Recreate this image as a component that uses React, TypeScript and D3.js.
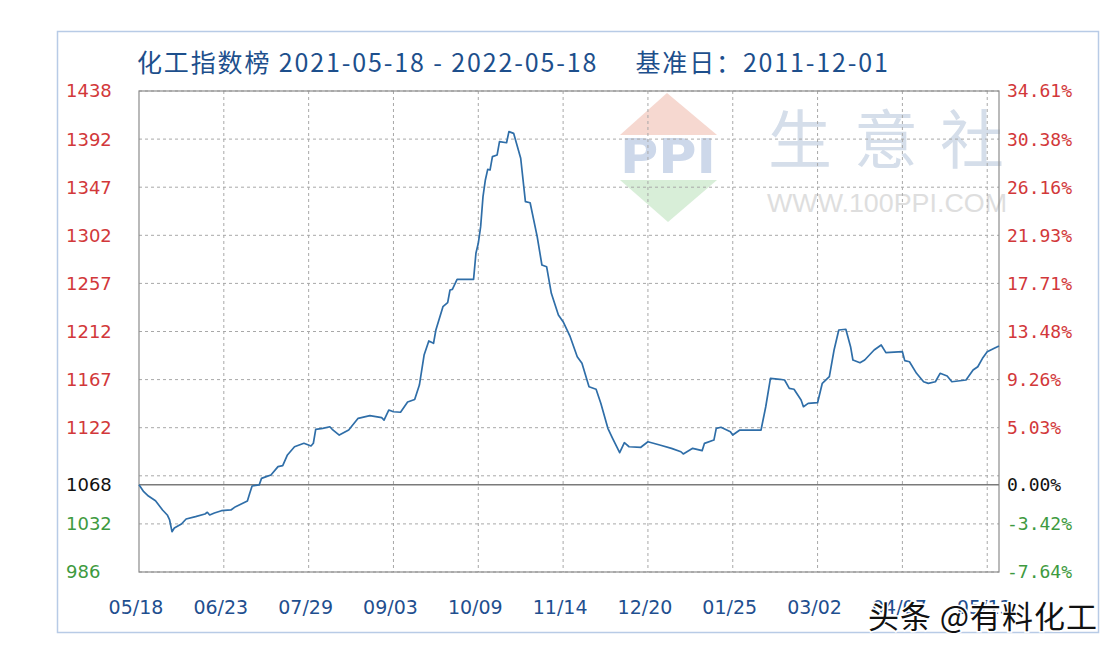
import React from "react";
import * as d3 from "d3";

const titleText = "化工指数榜 2021-05-18 - 2022-05-18     基准日：2011-12-01";

const dates = [
"2021-05-18","2021-05-20","2021-05-22","2021-05-25","2021-05-28","2021-05-30","2021-05-31","2021-06-01","2021-06-02","2021-06-05","2021-06-07","2021-06-11","2021-06-15","2021-06-16","2021-06-17","2021-06-19","2021-06-22","2021-06-26","2021-06-28","2021-07-03","2021-07-04","2021-07-05","2021-07-08","2021-07-09","2021-07-11","2021-07-13","2021-07-16","2021-07-18","2021-07-20","2021-07-23","2021-07-27","2021-07-30","2021-07-31","2021-08-01","2021-08-04","2021-08-07","2021-08-08","2021-08-11","2021-08-15","2021-08-19","2021-08-24","2021-08-29","2021-08-30","2021-09-01","2021-09-03","2021-09-06","2021-09-09","2021-09-12","2021-09-14","2021-09-16","2021-09-18","2021-09-20","2021-09-21","2021-09-24","2021-09-26","2021-09-27","2021-09-28","2021-09-30","2021-10-07","2021-10-08","2021-10-09","2021-10-10","2021-10-11","2021-10-12","2021-10-13","2021-10-14","2021-10-15","2021-10-17","2021-10-18","2021-10-21","2021-10-22","2021-10-24","2021-10-27","2021-10-29","2021-10-31","2021-11-03","2021-11-05","2021-11-07","2021-11-09","2021-11-12","2021-11-14","2021-11-17","2021-11-20","2021-11-22","2021-11-25","2021-11-28","2021-11-30","2021-12-03","2021-12-05","2021-12-08","2021-12-10","2021-12-12","2021-12-17","2021-12-20","2021-12-25","2021-12-30","2022-01-03","2022-01-04","2022-01-08","2022-01-12","2022-01-13","2022-01-17","2022-01-18","2022-01-20","2022-01-24","2022-01-25","2022-01-28","2022-02-06","2022-02-08","2022-02-10","2022-02-14","2022-02-16","2022-02-18","2022-02-20","2022-02-23","2022-02-24","2022-02-26","2022-03-02","2022-03-04","2022-03-07","2022-03-09","2022-03-11","2022-03-14","2022-03-16","2022-03-17","2022-03-20","2022-03-22","2022-03-26","2022-03-29","2022-03-31","2022-04-07","2022-04-08","2022-04-10","2022-04-13","2022-04-16","2022-04-18","2022-04-21","2022-04-23","2022-04-26","2022-04-28","2022-05-04","2022-05-07","2022-05-09","2022-05-11","2022-05-13","2022-05-16","2022-05-18"
];

const indexValues = [
1068, 1061.5, 1057.4, 1053, 1044.3, 1039.6, 1034.9, 1023.9, 1027.3, 1031.1, 1035.8, 1038, 1040.5, 1042.1, 1039.6, 1041.4, 1043.6, 1044.3, 1047.4, 1052.7, 1060, 1066.8, 1067.8, 1074, 1075.6, 1077.2, 1085, 1085.9, 1096, 1103.7, 1107, 1104.4, 1107, 1120.1, 1121, 1122.5, 1120.1, 1114.7, 1119.4, 1130.4, 1132.9, 1131, 1128.8, 1138.2, 1136.6, 1136.1, 1145.7, 1148.1, 1161.7, 1189.9, 1203.1, 1200.9, 1213.4, 1235.3, 1239.1, 1251, 1251.6, 1261, 1261, 1285.5, 1294.9, 1310.5, 1338.7, 1354.4, 1364.4, 1363.8, 1376.3, 1377.9, 1390.4, 1389.4, 1399.8, 1398.2, 1374.8, 1334, 1333, 1301.1, 1274.5, 1272.9, 1247.9, 1227.5, 1221.2, 1207.1, 1188.3, 1182.1, 1160.1, 1157.7, 1144.5, 1121, 1111.6, 1098.1, 1107.5, 1103.7, 1103.2, 1108.4, 1105.3, 1102.2, 1099, 1096.9, 1102.2, 1100, 1106.9, 1110, 1121, 1122, 1117.8, 1114.7, 1119.4, 1119.4, 1141.3, 1168, 1167.1, 1166.4, 1158.6, 1157.7, 1147.6, 1141.3, 1144.5, 1145.1, 1163.3, 1169.5, 1194.6, 1213.4, 1214.1, 1197.7, 1185.2, 1182.7, 1185.2, 1194.6, 1199.3, 1192.1, 1193, 1184.6, 1183.6, 1172.7, 1164.8, 1163.3, 1164.8, 1172.7, 1170.2, 1164.8, 1166.4, 1175.8, 1178.9, 1186.8, 1193, 1196.2, 1198.4
];

const xTickDates = ["2021-05-18","2021-06-23","2021-07-29","2021-09-03","2021-10-09","2021-11-14","2021-12-20","2022-01-25","2022-03-02","2022-04-07","2022-05-13"];

const gridValues = [1438, 1392.8, 1347.6, 1302.4, 1257.2, 1212, 1166.8, 1121.6, 1076.4, 1031.2, 986];
const leftTickValues = [1438, 1392.8, 1347.6, 1302.4, 1257.2, 1212, 1166.8, 1121.6, 1031.2, 986];
const leftTickLabels = ["1438","1392","1347","1302","1257","1212","1167","1122","1032","986"];
const rightTickLabels = ["34.61%","30.38%","26.16%","21.93%","17.71%","13.48%","9.26%","5.03%","-3.42%","-7.64%"];
const baseValue = 1068;
const baseLabelLeft = "1068";
const baseLabelRight = "0.00%";
const yDomain = [986, 1438];
const dateDomain = ["2021-05-18", "2022-05-18"];

const parse = d3.utcParse("%Y-%m-%d");
const fmtTick = d3.utcFormat("%m/%d");

export default function App() {
  const W = 1118, H = 648;
  const left = 139, right = 999, top = 91, bottom = 572;
  const x = d3.scaleUtc().domain(dateDomain.map((s) => parse(s) as Date)).range([left, right]);
  const y = d3.scaleLinear().domain(yDomain).range([bottom, top]);
  const data = d3.zip(dates, indexValues).map(([d, v]) => ({ date: parse(d as string) as Date, value: v as number }));
  const line = d3.line<{ date: Date; value: number }>().x((d) => x(d.date)).y((d) => y(d.value));

  const red = "#d2383a";
  const green = "#3e9a40";
  const labelColor = (v: number) => (v > baseValue ? red : v < baseValue ? green : "#111");

  return (
    <svg width={W} height={H} style={{ position: "absolute", left: 0, top: 0, background: "#fff" }}>
      <rect x={0} y={0} width={W} height={H} fill="#fff" />
      <rect x={57.5} y={31.5} width={1041} height={601} fill="#fff" stroke="#b8cbe6" strokeWidth={1.5} />

      {/* title */}
      <text x={137} y={72} fontFamily="'Noto Sans CJK SC', sans-serif" fontSize={25} fill="#1d4f8c"
        textLength={751} lengthAdjust="spacing" style={{ whiteSpace: "pre" }}>{titleText}</text>

      {/* background logo watermark */}
      <g>
        <path d={`M${667},${93} L${717},${135} L${620},${135} Z`} fill="#f6d8d0" />
        <text x={620} y={173} fontFamily="'DejaVu Sans', sans-serif" fontWeight="bold" fontSize={48}
          fill="#cdd8ea" textLength={96} lengthAdjust="spacingAndGlyphs">PPI</text>
        <path d={`M${620},${180} L${717},${180} L${668},${222} Z`} fill="#d8eed8" />
        <text x={768} y={163} fontFamily="'Noto Sans CJK SC', sans-serif" fontSize={64} fill="#d5deea"
          textLength={236} lengthAdjust="spacing">生意社</text>
        <text x={767} y={212} fontFamily="'Liberation Sans', Arial, sans-serif" fontSize={26} fill="#dedede"
          textLength={240} lengthAdjust="spacingAndGlyphs">WWW.100PPI.COM</text>
      </g>

      {/* grid */}
      {gridValues.map((v, i) => (
        <line key={"h" + i} x1={left} x2={right} y1={y(v)} y2={y(v)} stroke="#a8a8a8" strokeDasharray="3,3" />
      ))}
      {xTickDates.slice(1).map((d, i) => (
        <line key={"v" + i} x1={x(parse(d) as Date)} x2={x(parse(d) as Date)} y1={top} y2={bottom}
          stroke="#a8a8a8" strokeDasharray="3,3" />
      ))}
      <rect x={left} y={top} width={right - left} height={bottom - top} fill="none" stroke="#8c8c8c" strokeWidth={1.2} />
      <line x1={left} x2={right} y1={y(baseValue)} y2={y(baseValue)} stroke="#7a7a7a" strokeWidth={1.5} />

      {/* series */}
      <path d={line(data) || ""} fill="none" stroke="#2f6ea8" strokeWidth={1.7} strokeLinejoin="round" />

      {/* left axis */}
      {leftTickValues.map((v, i) => (
        <text key={"l" + i} x={66} y={y(v)} dy="0.36em" fontFamily="'DejaVu Sans', sans-serif" fontSize={18}
          fill={labelColor(v)}>{leftTickLabels[i]}</text>
      ))}
      <text x={66} y={y(baseValue)} dy="0.36em" fontFamily="'DejaVu Sans', sans-serif" fontSize={18} fill="#111">{baseLabelLeft}</text>

      {/* right axis */}
      {leftTickValues.map((v, i) => (
        <text key={"r" + i} x={1007} y={y(v)} dy="0.36em" fontFamily="'DejaVu Sans Mono', monospace" fontSize={18}
          fill={labelColor(v)}>{rightTickLabels[i]}</text>
      ))}
      <text x={1007} y={y(baseValue)} dy="0.36em" fontFamily="'DejaVu Sans Mono', monospace" fontSize={18} fill="#111">{baseLabelRight}</text>

      {/* x axis */}
      {xTickDates.map((d, i) => (
        <text key={"x" + i} x={x(parse(d) as Date) - 3} y={614} textAnchor="middle" fontFamily="'DejaVu Sans', sans-serif"
          fontSize={19} fill="#1f4f8f">{fmtTick(parse(d) as Date)}</text>
      ))}

      {/* corner watermark */}
      <text x={868} y={628} fontFamily="'Noto Sans CJK SC', sans-serif" fontSize={31} fill="#111"
        stroke="#fff" strokeWidth={3} style={{ paintOrder: "stroke" }} textLength={229} lengthAdjust="spacing">头条 @有料化工</text>
    </svg>
  );
}
